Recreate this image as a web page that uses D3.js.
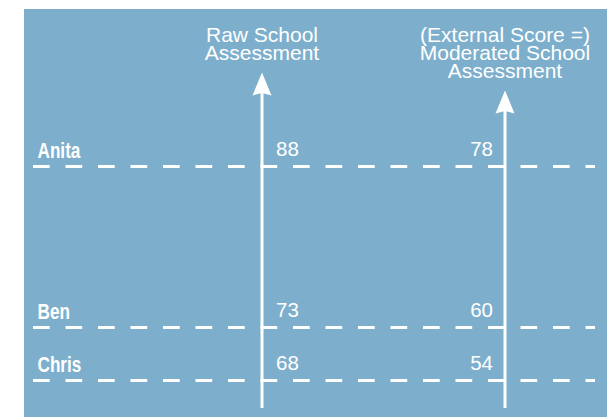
<!DOCTYPE html>
<html>
<head>
<meta charset="utf-8">
<script src="https://cdn.jsdelivr.net/npm/d3@7"></script>
<style>
  html, body { margin: 0; padding: 0; background: #ffffff; }
  svg { display: block; }
</style>
</head>
<body>
<svg id="chart" width="607" height="417"></svg>
<script>
// ---- data ----
const students = ["Anita", "Ben", "Chris"];
const rawScores = [88, 73, 68];
const moderatedScores = [78, 60, 54];
const axisKeys = ["raw", "moderated"];
const axisTitles = [
  ["Raw School", "Assessment"],
  ["(External Score =)", "Moderated School", "Assessment"]
];

// ---- layout ----
const W = 607, H = 417;
const bg = "#7DAFCD";
const svg = d3.select("#chart");

svg.append("rect")
  .attr("x", 24).attr("y", 9)
  .attr("width", W - 24).attr("height", H - 9)
  .attr("fill", bg);

const x = d3.scalePoint().domain(axisKeys).range([262, 505]);
const y = d3.scaleLinear().domain([68, 88]).range([380, 166]);

const rows = students.map((name, i) => ({
  name, raw: rawScores[i], mod: moderatedScores[i]
}));

// dashed guide lines
svg.append("g").selectAll("line").data(rows).join("line")
  .attr("x1", 33).attr("x2", 595)
  .attr("y1", d => Math.round(y(d.raw)) + 0.5)
  .attr("y2", d => Math.round(y(d.raw)) + 0.5)
  .attr("stroke", "#fff")
  .attr("stroke-width", 3)
  .attr("stroke-dasharray", "16.7,15.8");

// names (condensed bold)
svg.append("g").selectAll("text").data(rows).join("text")
  .attr("transform", d => `translate(37.5,${Math.round(y(d.raw)) - 8.5}) scale(0.78,1)`)
  .attr("fill", "#fff")
  .attr("font-family", "'Liberation Sans', Arial, sans-serif")
  .attr("font-weight", "bold")
  .attr("font-size", 22)
  .text(d => d.name);

// values
svg.append("g").selectAll("text").data(rows).join("text")
  .attr("x", x("raw") + 14)
  .attr("y", d => Math.round(y(d.raw)) - 10)
  .attr("fill", "#fff")
  .attr("font-family", "'Liberation Sans', Arial, sans-serif")
  .attr("font-size", 20.5)
  .text(d => d.raw);

svg.append("g").selectAll("text").data(rows).join("text")
  .attr("x", x("moderated") - 12)
  .attr("y", d => Math.round(y(d.raw)) - 10)
  .attr("text-anchor", "end")
  .attr("fill", "#fff")
  .attr("font-family", "'Liberation Sans', Arial, sans-serif")
  .attr("font-size", 20.5)
  .text(d => d.mod);

// axes with arrows and titles
const lineH = 18;
const firstBaseline = 41.5;
axisKeys.forEach((k, i) => {
  const cx = x(k);
  const lines = axisTitles[i];
  const g = svg.append("g");
  const t = g.append("text")
    .attr("text-anchor", "middle")
    .attr("fill", "#fff")
    .attr("font-family", "'Liberation Sans', Arial, sans-serif")
    .attr("font-size", 21);
  lines.forEach((ln, j) => {
    t.append("tspan").attr("x", cx).attr("y", firstBaseline + j * lineH).text(ln);
  });
  const tipY = firstBaseline + (lines.length - 1) * lineH + 13;
  g.append("line")
    .attr("x1", cx).attr("x2", cx)
    .attr("y1", tipY + 15).attr("y2", 408)
    .attr("stroke", "#fff").attr("stroke-width", 3);
  g.append("path")
    .attr("d", `M${cx},${tipY} L${cx + 9.5},${tipY + 23} L${cx},${tipY + 20.5} L${cx - 9.5},${tipY + 23} Z`)
    .attr("fill", "#fff");
});
</script>
</body>
</html>
